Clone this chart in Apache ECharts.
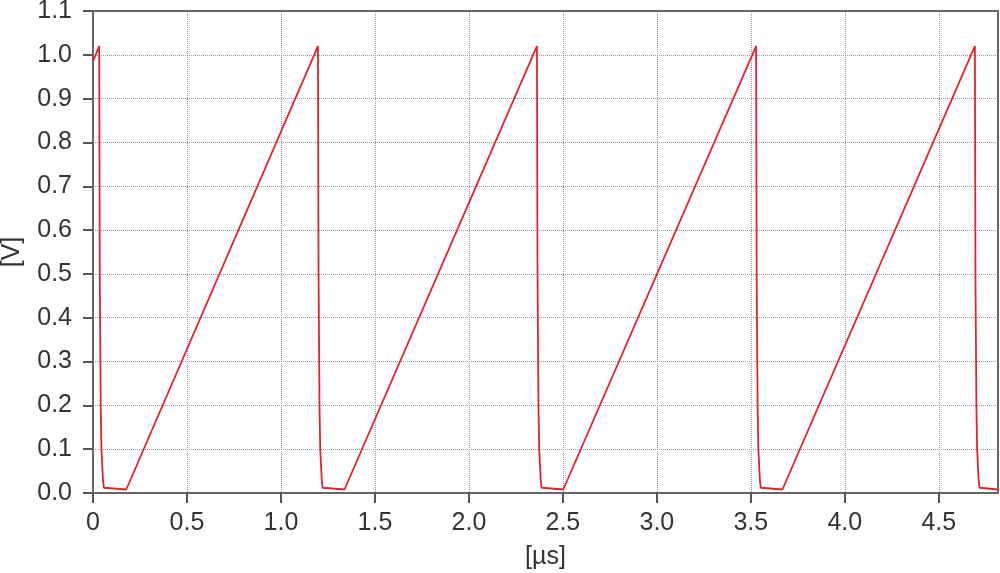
<!DOCTYPE html>
<html>
<head>
<meta charset="utf-8">
<script src="https://cdn.jsdelivr.net/npm/echarts@6/dist/echarts.min.js"></script>
<style>
  html, body { margin: 0; padding: 0; background: #fff; }
  #chart { width: 1000px; height: 573px; }
</style>
</head>
<body>
<div id="chart"></div>
<script>
// time in microseconds, voltage in volts
var timeUs = [
    0, 0.033, 0.036, 0.041, 0.045, 0.053, 0.058, 0.065, 0.177,
    1.197, 1.200, 1.205, 1.209, 1.217, 1.222, 1.229, 1.338,
    2.362, 2.365, 2.370, 2.374, 2.382, 2.387, 2.394, 2.502,
    3.528, 3.531, 3.536, 3.540, 3.548, 3.553, 3.560, 3.668,
    4.692, 4.695, 4.700, 4.704, 4.712, 4.717, 4.724, 4.815
];
var volts = [
    0.985, 1.02, 0.5, 0.2, 0.1, 0.03, 0.012, 0.008, 0.008,
    1.02, 0.5, 0.2, 0.1, 0.03, 0.012, 0.008, 0.008,
    1.02, 0.5, 0.2, 0.1, 0.03, 0.012, 0.008, 0.008,
    1.02, 0.5, 0.2, 0.1, 0.03, 0.012, 0.008, 0.008,
    1.02, 0.5, 0.2, 0.1, 0.03, 0.012, 0.008, 0.008
];
var xTicks = [0, 0.5, 1.0, 1.5, 2.0, 2.5, 3.0, 3.5, 4.0, 4.5];
var yTicks = [0, 0.1, 0.2, 0.3, 0.4, 0.5, 0.6, 0.7, 0.8, 0.9, 1.0, 1.1];

var font = '"Liberation Sans Narrow", "Liberation Sans", Arial, sans-serif';
var points = timeUs.map(function (t, i) { return [t, volts[i]]; });

// plain frame axis for the top and right edges of the plot
function frameAxis(pos, min, max) {
    return {
        type: 'value',
        position: pos,
        min: min,
        max: max,
        axisLine: { show: true, onZero: false, lineStyle: { color: '#666', width: 2 } },
        axisTick: { show: false },
        axisLabel: { show: false },
        splitLine: { show: false }
    };
}

var chart = echarts.init(document.getElementById('chart'));
chart.setOption({
    animation: false,
    grid: {
        left: 93,
        right: 2,
        top: 11,
        bottom: 80,
        outerBoundsMode: 'none'
    },
    xAxis: [{
        type: 'value',
        min: 0,
        max: 4.815,
        interval: 0.5,
        name: '[µs]',
        nameLocation: 'middle',
        nameGap: 52,
        nameTextStyle: { color: '#333', fontSize: 25, fontFamily: font },
        axisLine: { show: true, onZero: false, lineStyle: { color: '#666', width: 2 } },
        axisTick: { show: true, inside: false, length: 10, lineStyle: { color: '#555', width: 2 } },
        axisLabel: {
            color: '#333',
            fontSize: 25,
            fontFamily: font,
            margin: 18,
            showMaxLabel: false,
            formatter: function (v) {
                if (xTicks.indexOf(v) < 0) return '';
                return v === 0 ? '0' : v.toFixed(1);
            }
        },
        splitLine: { show: true, lineStyle: { color: '#999', type: 'dotted', width: 1 } }
    }, frameAxis('top', 0, 4.815)],
    yAxis: [{
        type: 'value',
        min: 0,
        max: 1.1,
        interval: 0.1,
        name: '[V]',
        nameLocation: 'middle',
        nameGap: 68,
        nameTextStyle: { color: '#333', fontSize: 25, fontFamily: font },
        axisLine: { show: true, onZero: false, lineStyle: { color: '#666', width: 2 } },
        axisTick: { show: true, inside: false, length: 10, lineStyle: { color: '#555', width: 2 } },
        axisLabel: {
            color: '#333',
            fontSize: 25,
            fontFamily: font,
            margin: 21,
            formatter: function (v) {
                var idx = Math.round(v * 10);
                return yTicks[idx] !== undefined ? yTicks[idx].toFixed(1) : '';
            }
        },
        splitLine: { show: true, lineStyle: { color: '#999', type: 'dotted', width: 1 } }
    }, frameAxis('right', 0, 1.1)],
    series: [{
        type: 'line',
        xAxisIndex: 0,
        yAxisIndex: 0,
        data: points,
        showSymbol: false,
        symbol: 'none',
        lineStyle: { color: '#e3232b', width: 1.8 }
    }]
});
</script>
</body>
</html>
